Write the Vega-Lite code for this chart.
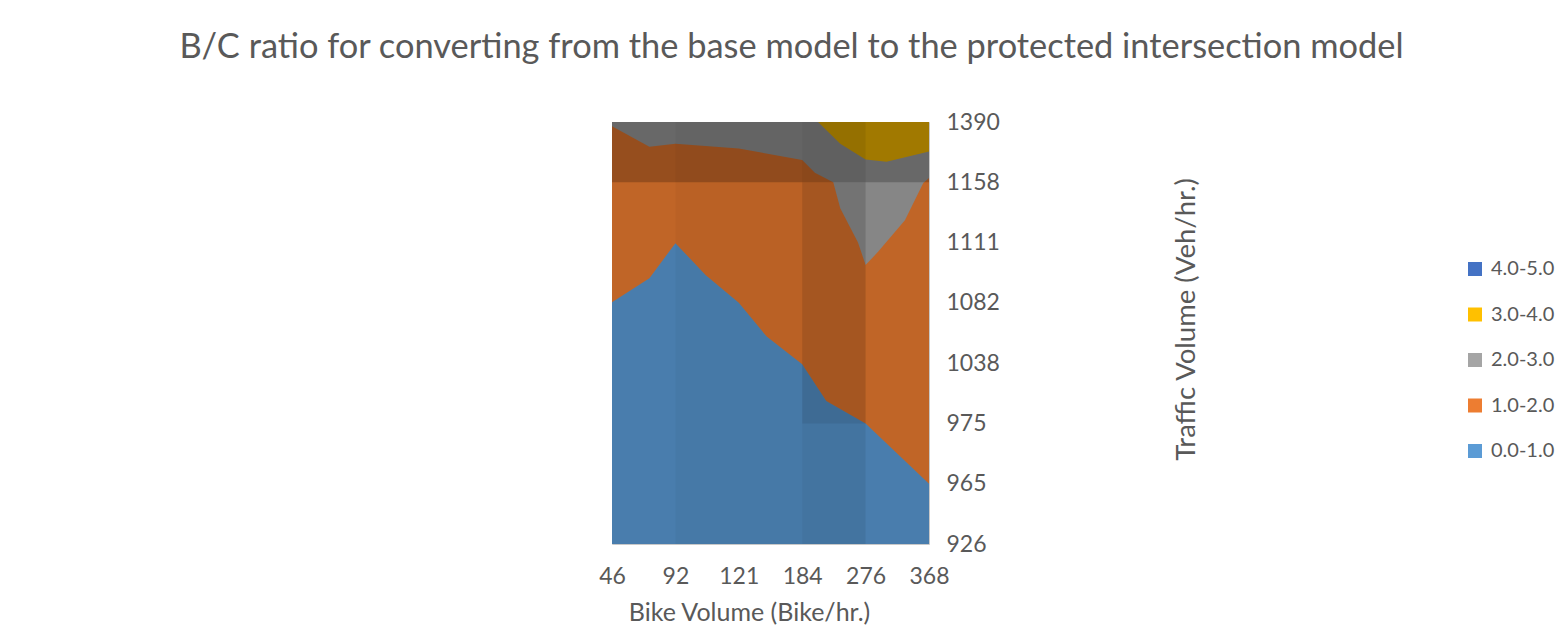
{
  "$schema": "https://vega.github.io/schema/vega-lite/v6.json",
  "autosize": {"type": "none"},
  "width": 317,
  "height": 422,
  "padding": {"left": 612, "top": 122, "right": 638, "bottom": 95},
  "background": "white",
  "config": {
    "view": {"stroke": "#c8c8c8", "strokeWidth": 1},
    "font": "Lato"
  },
  "title": {
    "text": "B/C ratio for converting from the base model to the protected intersection model",
    "font": "Lato",
    "fontSize": 34.4,
    "fontWeight": "normal",
    "color": "#595959",
    "anchor": "middle",
    "frame": "group",
    "dx": 21,
    "offset": 46
  },
  "resolve": {"scale": {"x": "shared", "y": "shared"}},
  "layer": [
    {
      "data": {
        "values": [
          {"band": "3.0-4.0", "x": 0, "y": 7},
          {"band": "3.0-4.0", "x": 5, "y": 7},
          {"band": "2.0-3.0", "x": 0, "y": 7},
          {"band": "2.0-3.0", "x": 3.25, "y": 7},
          {"band": "2.0-3.0", "x": 3.6, "y": 6.64},
          {"band": "2.0-3.0", "x": 4.0, "y": 6.38},
          {"band": "2.0-3.0", "x": 4.33, "y": 6.34},
          {"band": "2.0-3.0", "x": 5.0, "y": 6.51},
          {"band": "1.0-2.0", "x": 0, "y": 6.93},
          {"band": "1.0-2.0", "x": 0.59, "y": 6.59},
          {"band": "1.0-2.0", "x": 1.0, "y": 6.64},
          {"band": "1.0-2.0", "x": 2.0, "y": 6.56},
          {"band": "1.0-2.0", "x": 3.0, "y": 6.37},
          {"band": "1.0-2.0", "x": 3.2, "y": 6.16},
          {"band": "1.0-2.0", "x": 3.49, "y": 6.0},
          {"band": "1.0-2.0", "x": 3.6, "y": 5.57},
          {"band": "1.0-2.0", "x": 3.88, "y": 5.0},
          {"band": "1.0-2.0", "x": 4.0, "y": 4.63},
          {"band": "1.0-2.0", "x": 4.2, "y": 4.85},
          {"band": "1.0-2.0", "x": 4.62, "y": 5.37},
          {"band": "1.0-2.0", "x": 4.91, "y": 5.99},
          {"band": "1.0-2.0", "x": 5.0, "y": 6.07},
          {"band": "0.0-1.0", "x": 0, "y": 4.01},
          {"band": "0.0-1.0", "x": 0.59, "y": 4.41},
          {"band": "0.0-1.0", "x": 1.0, "y": 4.99},
          {"band": "0.0-1.0", "x": 1.48, "y": 4.46},
          {"band": "0.0-1.0", "x": 2.0, "y": 4.0},
          {"band": "0.0-1.0", "x": 2.44, "y": 3.44},
          {"band": "0.0-1.0", "x": 3.0, "y": 2.98},
          {"band": "0.0-1.0", "x": 3.38, "y": 2.37},
          {"band": "0.0-1.0", "x": 4.0, "y": 2.0},
          {"band": "0.0-1.0", "x": 5.0, "y": 1.0}
        ]
      },
      "encoding": {
        "x": {
          "field": "x",
          "type": "quantitative",
          "scale": {"domain": [0, 5], "nice": false, "zero": false},
          "axis": {
            "orient": "bottom",
            "values": [0, 1, 2, 3, 4, 5],
            "labelExpr": "['46','92','121','184','276','368'][datum.value]",
            "ticks": false,
            "domain": false,
            "grid": false,
            "labelFlush": false,
            "labelOverlap": false,
            "labelPadding": 21,
            "labelFont": "Lato",
            "labelFontSize": 23,
            "labelColor": "#595959",
            "title": "Bike Volume (Bike/hr.)",
            "titleFont": "Lato",
            "titleFontSize": 25,
            "titleFontWeight": "normal",
            "titleColor": "#595959",
            "titleX": 137,
            "titleY": 68,
            "titleAlign": "center",
            "titleBaseline": "middle"
          }
        },
        "y": {
          "field": "y",
          "type": "quantitative",
          "stack": null,
          "scale": {"domain": [0, 7], "nice": false, "zero": true},
          "axis": {
            "orient": "right",
            "values": [0, 1, 2, 3, 4, 5, 6, 7],
            "labelExpr": "['926','965','975','1038','1082','1111','1158','1390'][datum.value]",
            "ticks": false,
            "domain": false,
            "grid": false,
            "labelFlush": false,
            "labelOverlap": false,
            "labelPadding": 17,
            "labelFont": "Lato",
            "labelFontSize": 23,
            "labelColor": "#595959",
            "title": "Traffic Volume (Veh/hr.)",
            "titleFont": "Lato",
            "titleFontSize": 27.5,
            "titleFontWeight": "normal",
            "titleColor": "#595959",
            "titleAngle": 270,
            "titleX": 257,
            "titleY": 197,
            "titleAlign": "center",
            "titleBaseline": "middle"
          }
        },
        "color": {
          "field": "band",
          "type": "nominal",
          "scale": {
            "domain": ["4.0-5.0", "3.0-4.0", "2.0-3.0", "1.0-2.0", "0.0-1.0"],
            "range": ["#4472C4", "#FFC000", "#A5A5A5", "#ED7D31", "#5B9BD5"]
          },
          "legend": {
            "orient": "none",
            "legendX": 853,
            "legendY": 137,
            "title": null,
            "padding": 0,
            "symbolType": "square",
            "symbolSize": 196,
            "symbolStrokeWidth": 0,
            "symbolOpacity": 1,
            "labelFont": "Lato",
            "labelFontSize": 20,
            "labelColor": "#595959",
            "labelOffset": 6,
            "rowPadding": 25.5
          }
        }
      },
      "layer": [
        {"transform": [{"filter": "datum.band === '3.0-4.0'"}], "mark": {"type": "area"}},
        {"transform": [{"filter": "datum.band === '2.0-3.0'"}], "mark": {"type": "area"}},
        {"transform": [{"filter": "datum.band === '1.0-2.0'"}], "mark": {"type": "area"}},
        {"transform": [{"filter": "datum.band === '0.0-1.0'"}], "mark": {"type": "area"}}
      ]
    },
    {
      "data": {"values": [
        {"x0": 0, "x1": 5, "y0": 0, "y1": 7, "part": "all"}
      ]},
      "mark": {"type": "rect", "fill": "black", "fillOpacity": 0.19, "strokeWidth": 0},
      "encoding": {
        "x": {"field": "x0", "type": "quantitative"},
        "x2": {"field": "x1"},
        "y": {"field": "y0", "type": "quantitative"},
        "y2": {"field": "y1"}
      }
    },
    {
      "data": {"values": [
        {"x0": 0, "x1": 5, "y0": 6, "y1": 7, "part": "top row"}
      ]},
      "mark": {"type": "rect", "fill": "black", "fillOpacity": 0.22, "strokeWidth": 0},
      "encoding": {
        "x": {"field": "x0", "type": "quantitative"},
        "x2": {"field": "x1"},
        "y": {"field": "y0", "type": "quantitative"},
        "y2": {"field": "y1"}
      }
    },
    {
      "data": {"values": [
        {"x0": 3, "x1": 4, "y0": 0, "y1": 7, "part": "col 184"}
      ]},
      "mark": {"type": "rect", "fill": "black", "fillOpacity": 0.07, "strokeWidth": 0},
      "encoding": {
        "x": {"field": "x0", "type": "quantitative"},
        "x2": {"field": "x1"},
        "y": {"field": "y0", "type": "quantitative"},
        "y2": {"field": "y1"}
      }
    },
    {
      "data": {"values": [
        {"x0": 3, "x1": 4, "y0": 2, "y1": 6, "part": "col 184 mid"}
      ]},
      "mark": {"type": "rect", "fill": "black", "fillOpacity": 0.07, "strokeWidth": 0},
      "encoding": {
        "x": {"field": "x0", "type": "quantitative"},
        "x2": {"field": "x1"},
        "y": {"field": "y0", "type": "quantitative"},
        "y2": {"field": "y1"}
      }
    },
    {
      "data": {"values": [
        {"x0": 1, "x1": 3, "y0": 0, "y1": 7, "part": "cols 92-184"}
      ]},
      "mark": {"type": "rect", "fill": "black", "fillOpacity": 0.03, "strokeWidth": 0},
      "encoding": {
        "x": {"field": "x0", "type": "quantitative"},
        "x2": {"field": "x1"},
        "y": {"field": "y0", "type": "quantitative"},
        "y2": {"field": "y1"}
      }
    }
  ]
}
